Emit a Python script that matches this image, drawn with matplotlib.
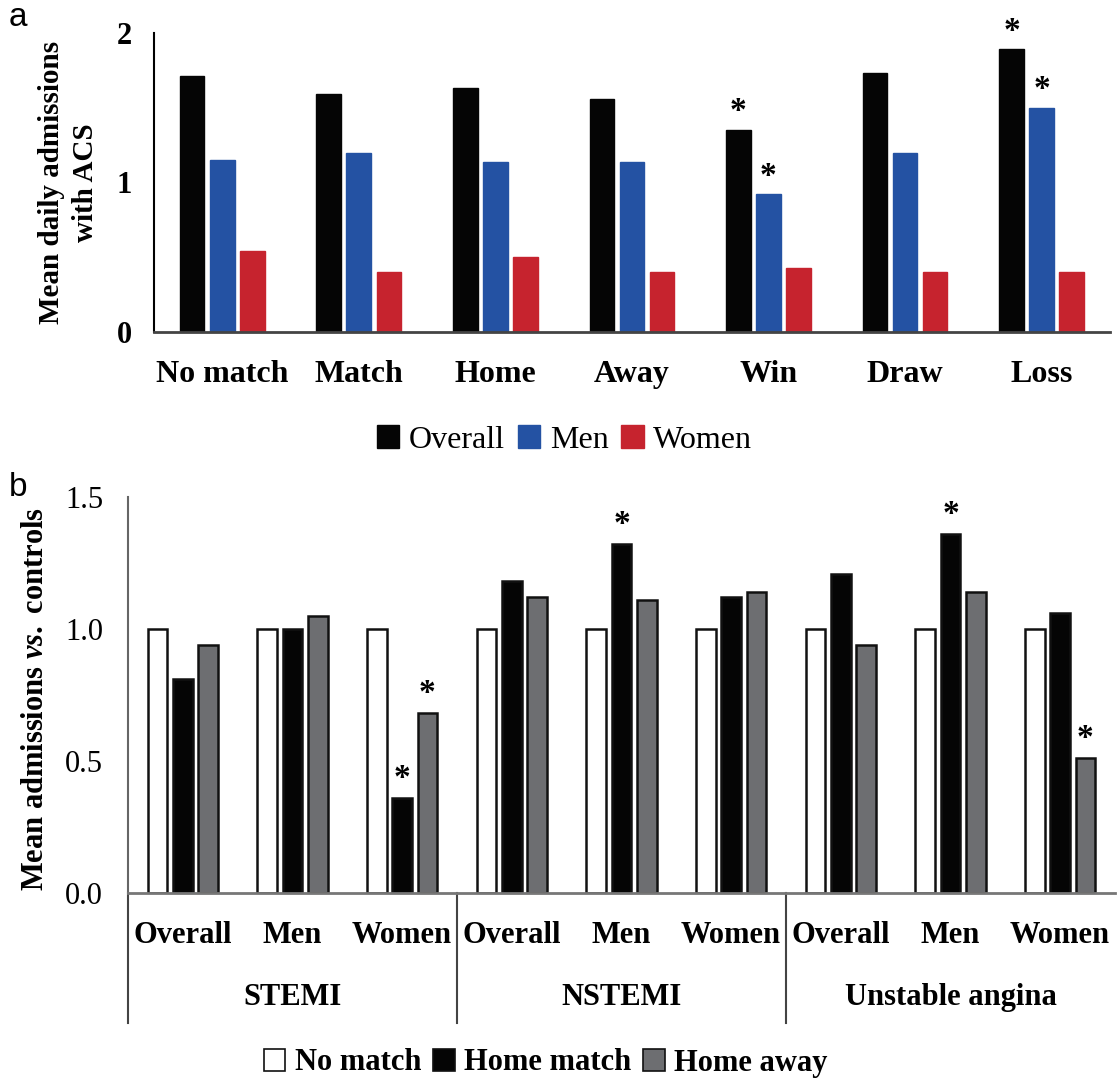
import numpy as np
import matplotlib
matplotlib.use("Agg")
import matplotlib.pyplot as plt
import matplotlib.transforms as mtransforms
from matplotlib.patches import Patch

plt.rcParams['font.family'] = ['Liberation Serif', 'DejaVu Serif']
plt.rcParams['mathtext.fontset'] = 'custom'
plt.rcParams['mathtext.rm'] = 'Liberation Serif:bold'
plt.rcParams['mathtext.it'] = 'Liberation Serif:italic:bold'

# --- panel a data ---
cats_a = ['No match', 'Match', 'Home', 'Away', 'Win', 'Draw', 'Loss']
overall_a = [1.71, 1.59, 1.63, 1.56, 1.35, 1.73, 1.89]
men_a = [1.15, 1.20, 1.14, 1.14, 0.92, 1.20, 1.50]
women_a = [0.54, 0.40, 0.50, 0.40, 0.43, 0.40, 0.40]
# significant markers (series index, category index)
sig_a = [(0, 4), (1, 4), (0, 6), (1, 6)]

# --- panel b data ---
cats_b = ['Overall', 'Men', 'Women'] * 3
groups_b = ['STEMI', 'NSTEMI', 'Unstable angina']
no_match_b = [1.0, 1.0, 1.0, 1.0, 1.0, 1.0, 1.0, 1.0, 1.0]
home_match_b = [0.81, 1.00, 0.36, 1.18, 1.32, 1.12, 1.21, 1.36, 1.06]
home_away_b = [0.94, 1.05, 0.68, 1.12, 1.11, 1.14, 0.94, 1.14, 0.51]
sig_b = [(1, 2), (2, 2), (1, 4), (1, 7), (2, 8)]

fig = plt.figure(figsize=(11.18, 10.82), dpi=100)

# ---------------- panel a ----------------
ax1 = fig.add_axes([0.1377, 0.6932, 0.855, 0.2763])
x = np.arange(len(cats_a))
w = 0.18
off = 0.22
cols_a = ['#050505', '#2452a3', '#c6232e']
series_a = [overall_a, men_a, women_a]
for i, (vals, c) in enumerate(zip(series_a, cols_a)):
    ax1.bar(x + (i - 1) * off, vals, w, color=c, edgecolor=c, linewidth=1)
for si, ci in sig_a:
    ax1.annotate('*', xy=(ci + (si - 1) * off, series_a[si][ci]), xytext=(0, 2),
                 textcoords='offset points', ha='center', va='bottom',
                 fontsize=24, fontweight='bold')
ax1.set_xlim(-0.5, len(cats_a) - 0.5)
ax1.set_ylim(0, 2)
ax1.set_yticks([0, 1, 2])
ax1.set_xticks(x)
ax1.set_xticklabels(cats_a, fontsize=23, fontweight='bold')
ax1.tick_params(axis='x', length=0, pad=20)
ax1.tick_params(axis='y', length=0, pad=16, labelsize=22)
for t in ax1.get_yticklabels():
    t.set_fontweight('bold')
ax1.spines['top'].set_visible(False)
ax1.spines['right'].set_visible(False)
ax1.spines['left'].set_linewidth(1.5)
ax1.spines['bottom'].set_linewidth(2)
ax1.spines['bottom'].set_color('#444444')
ax1.set_ylabel('Mean daily admissions\nwith ACS', fontsize=21, fontweight='bold',
               linespacing=1.3)
ax1.yaxis.set_label_coords(-0.058, 0.5)

handles_a = [Patch(facecolor=c, edgecolor=c) for c in cols_a]
fig.legend(handles_a, ['Overall', 'Men', 'Women'], loc='center',
           bbox_to_anchor=(0.505, 1 - 440 / 1082), ncol=3, frameon=False,
           prop={'size': 23}, handlelength=0.7, handleheight=0.7,
           handletextpad=0.3, columnspacing=0.4)

# ---------------- panel b ----------------
ax2 = fig.add_axes([0.1145, 0.1747, 0.8828, 0.366])
xb = np.arange(len(cats_b))
wb = 0.18
offb = 0.23
series_b = [no_match_b, home_match_b, home_away_b]
face_b = ['white', '#050505', '#6d6e71']
for i, (vals, c) in enumerate(zip(series_b, face_b)):
    ax2.bar(xb + (i - 1) * offb, vals, wb, color=c, edgecolor='#111111', linewidth=1.8)
for si, ci in sig_b:
    ax2.annotate('*', xy=(ci + (si - 1) * offb, series_b[si][ci]), xytext=(0, 3),
                 textcoords='offset points', ha='center', va='bottom',
                 fontsize=24, fontweight='bold')
ax2.set_xlim(-0.5, len(cats_b) - 0.5)
ax2.set_ylim(0, 1.5)
ax2.set_yticks([0, 0.5, 1.0, 1.5])
ax2.set_yticklabels(['0.0', '0.5', '1.0', '1.5'], fontsize=22)
ax2.set_xticks(xb)
ax2.set_xticklabels(cats_b, fontsize=22, fontweight='bold')
ax2.tick_params(axis='x', length=0, pad=20)
ax2.tick_params(axis='y', length=0, pad=18)
ax2.spines['top'].set_visible(False)
ax2.spines['right'].set_visible(False)
ax2.spines['left'].set_color('#666666')
ax2.spines['left'].set_linewidth(1.5)
ax2.spines['bottom'].set_color('#777777')
ax2.spines['bottom'].set_linewidth(2)
ax2.set_ylabel(r'Mean admissions $\it{vs.}$ controls', fontsize=22,
               fontweight='bold')
ax2.yaxis.set_label_coords(-0.079, 0.49)

trans = mtransforms.blended_transform_factory(ax2.transData, ax2.transAxes)
for bx in [-0.5, 2.5, 5.5]:
    ax2.plot([bx, bx], [0, -0.328], transform=trans, color='#444444',
             linewidth=1.5, clip_on=False)
for gi, g in enumerate(groups_b):
    ax2.text(gi * 3 + 1, -0.263, g, transform=trans, ha='center', va='center',
             fontsize=22, fontweight='bold')

handles_b = [Patch(facecolor=c, edgecolor='#111111', linewidth=1.2) for c in face_b]
fig.legend(handles_b, ['No match', 'Home match', 'Home away'], loc='center',
           bbox_to_anchor=(0.488, 1 - 1063 / 1082), ncol=3, frameon=False,
           prop={'size': 22, 'weight': 'bold'}, handlelength=0.7, handleheight=0.7,
           handletextpad=0.3, columnspacing=0.4)

fig.text(0.008, 1 - 18 / 1082, 'a', fontsize=24, family='Liberation Sans', va='center')
fig.text(0.008, 1 - 488 / 1082, 'b', fontsize=24, family='Liberation Sans', va='center')

fig.savefig('out.png', dpi=100)
